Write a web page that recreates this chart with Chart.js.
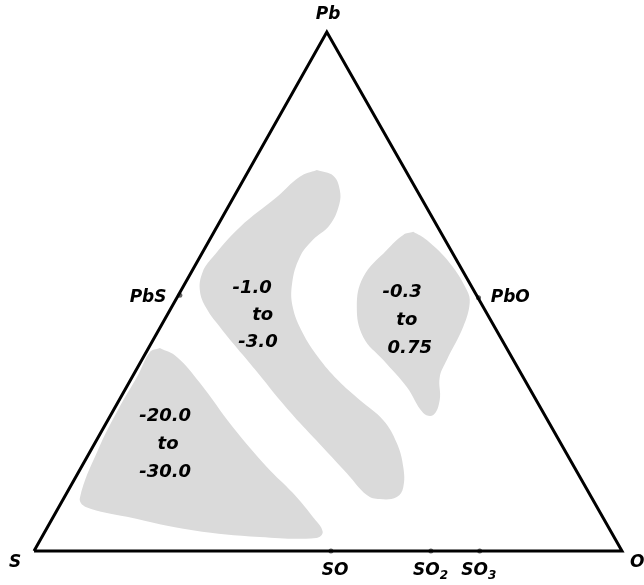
<!DOCTYPE html>
<html>
<head>
<meta charset="utf-8">
<script src="https://cdn.jsdelivr.net/npm/chart.js@4.4.1/dist/chart.umd.min.js"></script>
<style>
  body { margin: 0; background: #fff; }
  canvas { display: block; }
</style>
</head>
<body>
<canvas id="ternaryChart" width="644" height="585"></canvas>
<script>
// x: position along S -> O base (0..100), y: height toward Pb apex (0..100)
const triangle = [
    { x: 0, y: 0 }, { x: 49.8, y: 100 }, { x: 100, y: 0 }, { x: 0, y: 0 }
];

const regionLow = [ // -20.0 to -30.0
    { x: 21.4, y: 39.1 }, { x: 24.3, y: 37.4 }, { x: 28.2, y: 32.4 }, { x: 33.8, y: 23.9 },
    { x: 39.6, y: 16.2 }, { x: 44.0, y: 11.2 }, { x: 47.4, y: 6.6 }, { x: 49.1, y: 3.7 },
    { x: 48.0, y: 2.5 }, { x: 38.4, y: 2.7 }, { x: 27.0, y: 4.0 }, { x: 15.8, y: 6.6 },
    { x: 8.8, y: 8.5 }, { x: 7.8, y: 10.2 }, { x: 10.9, y: 19.5 }, { x: 14.3, y: 27.2 },
    { x: 17.7, y: 33.9 }, { x: 19.7, y: 38.3 }, { x: 21.4, y: 39.1 }
];

const regionMid = [ // -1.0 to -3.0
    { x: 48.1, y: 73.4 }, { x: 50.9, y: 72.3 }, { x: 52.0, y: 69.6 }, { x: 51.9, y: 66.7 },
    { x: 50.3, y: 62.8 }, { x: 47.4, y: 59.9 }, { x: 45.2, y: 56.6 }, { x: 43.9, y: 51.6 },
    { x: 44.0, y: 47.0 }, { x: 45.7, y: 42.0 }, { x: 48.3, y: 37.4 }, { x: 51.7, y: 32.9 },
    { x: 55.4, y: 29.1 }, { x: 59.4, y: 25.2 }, { x: 61.7, y: 20.8 }, { x: 62.8, y: 16.2 },
    { x: 62.8, y: 12.3 }, { x: 61.7, y: 10.4 }, { x: 58.8, y: 10.0 }, { x: 56.6, y: 10.8 },
    { x: 53.2, y: 15.0 }, { x: 49.1, y: 20.0 }, { x: 45.2, y: 24.7 }, { x: 41.8, y: 29.1 },
    { x: 38.8, y: 33.3 }, { x: 35.5, y: 37.8 }, { x: 32.0, y: 42.6 }, { x: 29.3, y: 46.8 },
    { x: 28.2, y: 50.3 }, { x: 28.7, y: 53.8 }, { x: 30.3, y: 56.5 }, { x: 35.0, y: 62.4 },
    { x: 41.3, y: 68.2 }, { x: 45.2, y: 72.1 }, { x: 48.1, y: 73.4 }
];

const regionHigh = [ // -0.3 to 0.75
    { x: 64.5, y: 61.5 }, { x: 66.8, y: 59.9 }, { x: 70.7, y: 55.5 }, { x: 73.6, y: 50.3 },
    { x: 74.1, y: 47.8 }, { x: 73.0, y: 43.2 }, { x: 70.2, y: 36.8 }, { x: 69.0, y: 33.5 },
    { x: 69.0, y: 29.1 }, { x: 67.9, y: 26.2 }, { x: 66.2, y: 26.6 }, { x: 63.4, y: 31.6 },
    { x: 59.4, y: 36.8 }, { x: 56.0, y: 41.2 }, { x: 54.9, y: 47.0 }, { x: 56.0, y: 52.8 },
    { x: 60.0, y: 58.0 }, { x: 62.8, y: 60.9 }, { x: 64.5, y: 61.5 }
];

const compounds = [
    { x: 24.8, y: 49.3 }, { x: 75.6, y: 48.8 },
    { x: 50.5, y: 0 }, { x: 67.5, y: 0 }, { x: 75.8, y: 0 }
];

const labels = [
    { text: 'Pb', x: 50.0, y: 103.3 },
    { text: 'PbS', x: 19.4, y: 48.8 },
    { text: 'PbO', x: 81.0, y: 48.8 },
    { text: 'S', x: -3.2, y: -2.3 },
    { text: 'O', x: 102.6, y: -2.3 },
    { text: 'SO', x: 51.2, y: -3.7 }
];

const subLabels = [
    { text: 'SO', sub: '2', x: 69.0, y: -3.7 },
    { text: 'SO', sub: '3', x: 77.2, y: -3.7 }
];

const regionLabels = [
    { text: '-1.0', x: 37.1, y: 50.7 }, { text: 'to', x: 38.9, y: 45.5 }, { text: '-3.0', x: 38.1, y: 40.3 },
    { text: '-0.3', x: 62.6, y: 49.9 }, { text: 'to', x: 63.4, y: 44.5 }, { text: '0.75', x: 63.9, y: 39.1 },
    { text: '-20.0', x: 22.3, y: 26.0 }, { text: 'to', x: 22.8, y: 20.6 }, { text: '-30.0', x: 22.3, y: 15.2 }
];

const labelFont = 'italic bold 17px "DejaVu Sans"';
const regionFont = 'italic bold 18px "DejaVu Sans"';

const textPlugin = {
    id: 'ternaryText',
    afterDraw(chart) {
        const ctx = chart.ctx;
        const xs = chart.scales.x;
        const ys = chart.scales.y;
        ctx.save();
        ctx.fillStyle = '#000';
        ctx.textAlign = 'center';
        ctx.textBaseline = 'middle';
        ctx.font = labelFont;
        labels.forEach(l => {
            ctx.fillText(l.text, xs.getPixelForValue(l.x), ys.getPixelForValue(l.y));
        });
        ctx.font = regionFont;
        regionLabels.forEach(l => {
            ctx.fillText(l.text, xs.getPixelForValue(l.x), ys.getPixelForValue(l.y));
        });
        subLabels.forEach(l => {
            const px = xs.getPixelForValue(l.x);
            const py = ys.getPixelForValue(l.y);
            ctx.font = labelFont;
            ctx.textAlign = 'right';
            ctx.fillText(l.text, px, py);
            ctx.font = 'italic bold 12px "DejaVu Sans"';
            ctx.textAlign = 'left';
            ctx.fillText(l.sub, px, py + 6);
        });
        ctx.restore();
    }
};

function region(data) {
    return {
        data: data,
        showLine: true,
        fill: 'shape',
        tension: 0.4,
        borderWidth: 0,
        borderColor: 'rgba(0,0,0,0)',
        backgroundColor: '#dadada',
        pointRadius: 0
    };
}

new Chart(document.getElementById('ternaryChart'), {
    type: 'scatter',
    data: {
        datasets: [
            region(regionLow),
            region(regionMid),
            region(regionHigh),
            {
                data: triangle,
                showLine: true,
                fill: false,
                borderColor: '#000',
                borderWidth: 3,
                borderJoinStyle: 'miter',
                pointRadius: 0,
                clip: false
            },
            {
                data: compounds,
                showLine: false,
                pointRadius: 2.5,
                pointBackgroundColor: '#666',
                pointBorderWidth: 0,
                clip: false
            }
        ]
    },
    options: {
        responsive: false,
        animation: false,
        layout: { padding: { left: 34, right: 22, top: 32, bottom: 34 } },
        scales: {
            x: { type: 'linear', min: 0, max: 100, display: false },
            y: { type: 'linear', min: 0, max: 100, display: false }
        },
        plugins: {
            legend: { display: false },
            tooltip: { enabled: false }
        }
    },
    plugins: [textPlugin]
});
</script>
</body>
</html>
